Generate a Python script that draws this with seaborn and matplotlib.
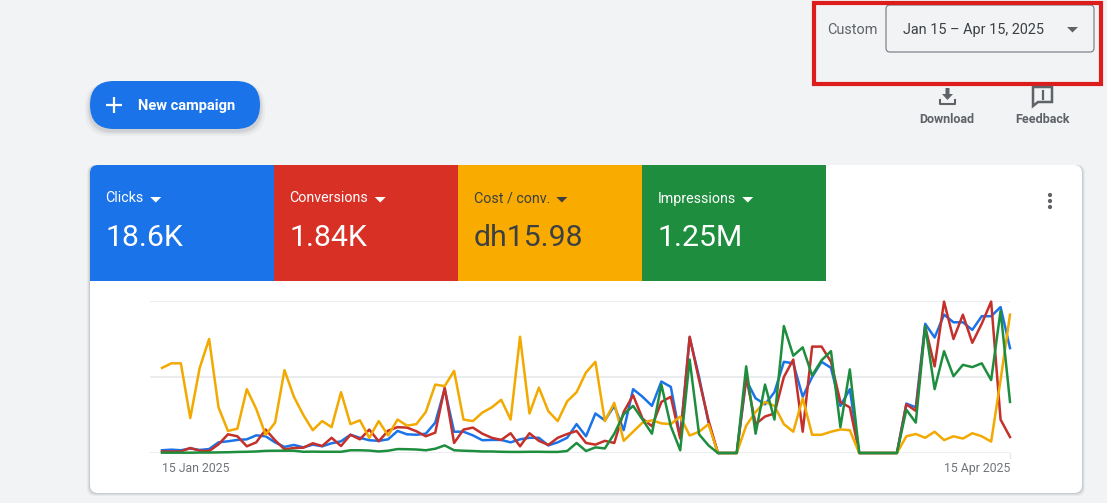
import matplotlib
matplotlib.use("Agg")
import matplotlib.pyplot as plt
import matplotlib.dates as mdates
from matplotlib.patches import FancyBboxPatch, Rectangle, Polygon, Circle
import pandas as pd
import seaborn as sns

# daily values, scaled so the top gridline is 100
clicks = [1.8, 2.2, 1.8, 3, 2, 2.6, 7, 7.7, 8.6, 9, 11.6, 11, 7, 4, 5.3, 3.7, 5.5, 4.4, 6.4, 7.7,
          12, 10, 8.4, 8, 9, 14.5, 12.3, 12, 12.7, 20, 42, 14, 14, 11.6, 8.4, 8.6, 8.6, 7, 9, 10,
          10, 5, 7, 10, 19, 11, 26, 21.5, 31, 15, 42, 37, 31, 47, 43.5, 10.5, 76, 50, 20, 0,
          0, 0, 48, 36, 32, 40, 60, 59, 37, 50, 60, 56, 31, 42, 0, 0, 0, 0, 0, 32.5,
          30, 85, 76, 91, 86, 86, 81, 90, 90, 96, 69]
conversions = [1, 1, 1, 3.3, 1.5, 1.3, 5.7, 12.3, 11, 4.4, 7, 15.4, 8.4, 2.4, 3.3, 3.5, 6.4, 4.6, 10, 4.6,
               12, 9, 15.4, 7.7, 14.7, 17, 16.7, 14.3, 11, 13.4, 43, 6.6, 15.4, 16.7, 12.7, 10, 8.6, 13, 4.4, 13,
               8, 5.3, 10, 12.5, 14.5, 6.6, 5.5, 8, 6.6, 27, 38, 22.6, 17.6, 33.6, 37, 9.5, 76.5, 48, 21.5, 0,
               0, 0, 50, 19, 24, 26, 50, 61.5, 14, 70, 70, 60, 33.6, 30, 0, 0, 0, 0, 0, 32,
               27.7, 83, 57, 99.6, 75, 91, 72.5, 85, 99.6, 22, 10.5]
cost_conv = [56, 59, 59, 23, 56, 75, 30, 14.5, 16, 42, 29, 12, 20, 54.5, 37, 25, 15, 21, 17, 40,
             19, 21.5, 10, 21, 11.5, 22, 18, 19, 27, 45, 44, 54, 22, 21, 26.6, 30, 35, 22, 76.5, 26,
             43, 27.5, 21, 34, 40, 53, 60, 21, 33, 8, 14, 20, 21.5, 19.5, 19, 24, 11.5, 14, 19, 0,
             0, 0, 18, 27, 33.6, 31, 19, 14, 36, 12, 12, 14, 15.5, 15, 0, 0, 0, 0, 0, 11,
             12.5, 10, 14, 8.5, 11, 9.5, 13, 11, 7.5, 48, 91]
impressions = [0.2, 0.2, 0.2, 0.2, 0.3, 0.3, 0.4, 0.5, 0.7, 0.8, 1, 1.4, 1.5, 1.5, 1.5, 0.8, 0.9, 0.8, 0.8, 0.8,
               1.8, 1.8, 1.6, 1, 1.5, 2.6, 2.5, 2.3, 1.8, 2.8, 5, 1.8, 1.5, 1.3, 1, 1, 0.8, 0.7, 0.7, 0.8,
               0.8, 0.7, 0.7, 1.3, 6.6, 1.3, 3.7, 3, 12.7, 25.5, 31, 22, 12.7, 45, 17.6, 1.8, 61.5, 12.3, 5, 0,
               0, 0, 57, 12.7, 45, 22, 83.5, 64, 69.5, 51, 61, 67, 17, 55, 0, 0, 0, 0, 0, 28.5,
               20, 83.5, 42, 67, 50.5, 58, 56.5, 59, 48, 93.6, 33.6]

series_names = ["Clicks", "Conversions", "Cost / conv.", "Impressions"]
series_values = [clicks, conversions, cost_conv, impressions]
series_colors = ["#1a73e8", "#c5302a", "#f2a900", "#1e8e3e"]
tile_colors = ["#1a73e8", "#d93025", "#f9ab00", "#1e8e3e"]
tile_totals = ["18.6K", "1.84K", "dh15.98", "1.25M"]
tile_text = ["white", "white", "#3c4043", "white"]
date_labels = ["15 Jan 2025", "15 Apr 2025"]

plt.rcParams["font.family"] = ["Roboto", "DejaVu Sans"]
W, H = 1107, 503
BG = "#f1f3f4"

dates = pd.date_range("2025-01-15", "2025-04-15")
frames = []
for name, vals in zip(series_names, series_values):
    frames.append(pd.DataFrame({"date": dates, "value": vals, "metric": name}))
df = pd.concat(frames)

fig = plt.figure(figsize=(W / 100, H / 100), dpi=100, facecolor=BG)

# page furniture, in pixel coordinates
ui = fig.add_axes([0, 0, 1, 1])
ui.set_xlim(0, W)
ui.set_ylim(H, 0)
ui.axis("off")

# card
for off, a in [(3, 0.05), (2, 0.07), (1, 0.10)]:
    ui.add_patch(FancyBboxPatch((90 - off, 165), 992 + 2 * off, 328 + off,
                                boxstyle="round,pad=0,rounding_size=8", fc="#3c4043", ec="none", alpha=a))
card = FancyBboxPatch((90, 165), 992, 328, boxstyle="round,pad=0,rounding_size=8", fc="white", ec="none")
ui.add_patch(card)

# metric tiles
for i, name in enumerate(series_names):
    x0 = 90 + 184 * i
    r = Rectangle((x0, 165), 184, 116, fc=tile_colors[i], ec="none")
    ui.add_patch(r)
    r.set_clip_path(card)
    t = ui.text(x0 + 15.5, 198.5, name, color=tile_text[i], fontsize=10.3, va="center", ha="left")
    fig.canvas.draw()
    bb = t.get_window_extent().transformed(ui.transData.inverted())
    cx = bb.x1 + 12
    ui.add_patch(Polygon([(cx - 5.5, 197), (cx + 5.5, 197), (cx, 202.5)], fc=tile_text[i], ec="none"))
    ui.text(x0 + 15.5, 237.5, tile_totals[i], color=tile_text[i], fontsize=21.8, va="center", ha="left")

# overflow dots
for y in [195, 201, 207]:
    ui.add_patch(Circle((1050, y), 2.1, fc="#5f6368", ec="none"))

# new campaign button
for off, a in [(5, 0.04), (3, 0.06), (1.5, 0.09)]:
    ui.add_patch(FancyBboxPatch((90 - off, 81 + 2), 170 + 2 * off, 48 + off,
                                boxstyle="round,pad=0,rounding_size=24", fc="#3c4043", ec="none", alpha=a))
ui.add_patch(FancyBboxPatch((90, 81), 170, 48, boxstyle="round,pad=0,rounding_size=24", fc="#1a73e8", ec="none"))
ui.plot([106, 122], [105, 105], color="white", lw=1.6, solid_capstyle="butt")
ui.plot([114, 114], [97, 113], color="white", lw=1.6, solid_capstyle="butt")
ui.text(138, 105.5, "New campaign", color="white", fontsize=10.5, fontweight="bold", va="center", ha="left")

# date selector
ui.add_patch(FancyBboxPatch((886, 5), 208, 47, boxstyle="round,pad=0,rounding_size=4",
                            fc=BG, ec="#80868b", lw=0.9))
ui.text(878, 29.5, "Custom", color="#5f6368", fontsize=10.4, va="center", ha="right")
ui.text(903, 29.5, "Jan 15 \u2013 Apr 15, 2025", color="#3c4043", fontsize=10.4, va="center", ha="left")
ui.add_patch(Polygon([(1067, 27), (1078, 27), (1072.5, 32.5)], fc="#5f6368", ec="none"))
ui.add_patch(Rectangle((813.5, 3), 287, 81, fc="none", ec="#dd1c1c", lw=3))

# download icon
ui.add_patch(Polygon([(945.5, 88), (949.5, 88), (949.5, 94), (953, 94), (947.5, 100), (942, 94), (945.5, 94)],
                     fc="#5f6368", ec="none"))
ui.plot([940, 940, 955, 955], [100, 103.5, 103.5, 100], color="#5f6368", lw=1.5)
ui.text(947, 119, "Download", color="#5f6368", fontsize=9, fontweight="bold", va="center", ha="center")

# feedback icon
ui.add_patch(Polygon([(1033, 87), (1052, 87), (1052, 102), (1038, 102), (1033, 106)],
                     fc="none", ec="#5f6368", lw=1.8))
ui.plot([1042.5, 1042.5], [90.5, 95], color="#5f6368", lw=1.6)
ui.plot([1042.5, 1042.5], [96.5, 98.5], color="#5f6368", lw=1.6)
ui.text(1042, 119, "Feedback", color="#5f6368", fontsize=9, fontweight="bold", va="center", ha="center")

# chart
px_per_day = (1010 - 162) / 90
ax = fig.add_axes([150 / W, 1 - 453 / H, (1010 - 150) / W, (453 - 301) / H])
ax.patch.set_alpha(0)
sns.lineplot(data=df, x="date", y="value", hue="metric", hue_order=series_names,
             palette=series_colors, linewidth=1.8, legend=False, ax=ax, clip_on=False, zorder=3)
ax.set_ylim(0, 100)
start = mdates.date2num(dates[0])
ax.set_xlim(start - 12 / px_per_day, mdates.date2num(dates[-1]))
ax.set_yticks([0, 50, 100])
ax.set_yticklabels([])
ax.set_xticks([])
ax.set_xlabel("")
ax.set_ylabel("")
ax.tick_params(length=0)
ax.grid(axis="y", color="#e8eaed", lw=1.3)
ax.set_axisbelow(True)
sns.despine(ax=ax, left=True, bottom=True)

ui.text(162, 468.5, date_labels[0], color="#70757a", fontsize=8.8, va="center", ha="left")
ui.text(1010, 468.5, date_labels[1], color="#70757a", fontsize=8.8, va="center", ha="right")
ui.plot([1010, 1010], [453, 458], color="#e8eaed", lw=1)

fig.savefig("out.png", dpi=100, facecolor=BG)
